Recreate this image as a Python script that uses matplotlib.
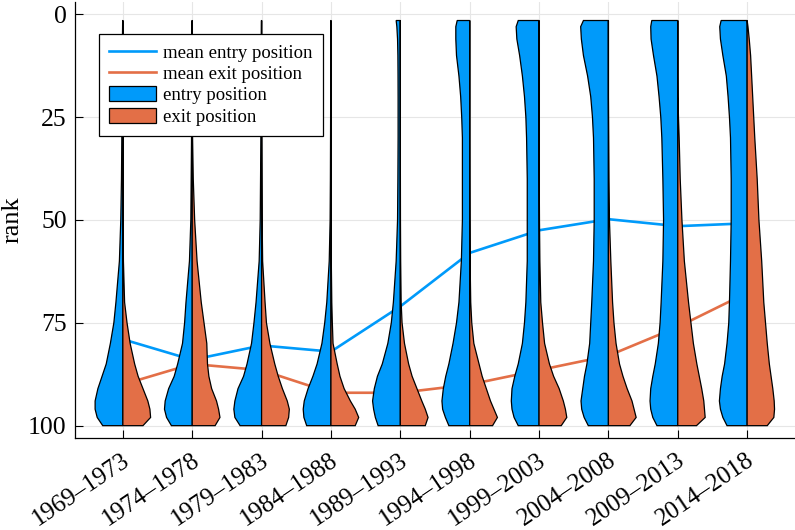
import numpy as np
import matplotlib
matplotlib.use("Agg")
import matplotlib.pyplot as plt
from matplotlib.lines import Line2D
from matplotlib.patches import Patch
from matplotlib.transforms import ScaledTranslation

plt.rcParams["font.family"] = ["Liberation Serif", "DejaVu Serif"]

# periods on the x axis
periods = ["1969–1973", "1974–1978", "1979–1983", "1984–1988", "1989–1993",
           "1994–1998", "1999–2003", "2004–2008", "2009–2013", "2014–2018"]

# mean rank of entry / exit per period
mean_entry = [79, 84, 80.5, 82, 71, 58, 52.5, 49.8, 51.5, 50.8]
mean_exit = [90, 85, 86.5, 92, 92, 90, 86.5, 83, 76, 67.7]

# rank levels at which the violin half widths were read
ranks = [1.5, 3, 6, 10, 15, 20, 25, 30, 40, 50, 60, 70, 75, 80, 85, 88, 91, 94, 96, 98, 100]

# half width of the entry-position violin (left side), one row per period
entry_width = [
    [0.003, 0.004, 0.006, 0.008, 0.01, 0.012, 0.013, 0.015, 0.02, 0.03, 0.05, 0.10, 0.13, 0.18, 0.24, 0.30, 0.36, 0.40, 0.40, 0.37, 0.29],
    [0.002, 0.003, 0.004, 0.005, 0.006, 0.007, 0.008, 0.01, 0.015, 0.02, 0.04, 0.09, 0.11, 0.14, 0.21, 0.26, 0.34, 0.39, 0.40, 0.37, 0.30],
    [0.002, 0.003, 0.004, 0.005, 0.006, 0.007, 0.008, 0.01, 0.015, 0.02, 0.035, 0.08, 0.11, 0.145, 0.21, 0.26, 0.34, 0.385, 0.40, 0.385, 0.31],
    [0.002, 0.002, 0.003, 0.003, 0.004, 0.004, 0.005, 0.006, 0.008, 0.012, 0.025, 0.06, 0.09, 0.13, 0.20, 0.26, 0.33, 0.385, 0.40, 0.39, 0.35],
    [0.06, 0.05, 0.04, 0.035, 0.033, 0.032, 0.032, 0.032, 0.035, 0.04, 0.06, 0.10, 0.13, 0.18, 0.26, 0.33, 0.375, 0.40, 0.385, 0.36, 0.32],
    [0.18, 0.20, 0.20, 0.19, 0.155, 0.13, 0.115, 0.105, 0.105, 0.105, 0.12, 0.155, 0.19, 0.24, 0.30, 0.345, 0.38, 0.40, 0.39, 0.35, 0.30],
    [0.30, 0.33, 0.32, 0.28, 0.24, 0.21, 0.19, 0.18, 0.17, 0.17, 0.17, 0.19, 0.21, 0.24, 0.30, 0.35, 0.39, 0.40, 0.39, 0.36, 0.30],
    [0.36, 0.40, 0.39, 0.36, 0.30, 0.255, 0.23, 0.215, 0.205, 0.205, 0.215, 0.24, 0.255, 0.27, 0.31, 0.345, 0.37, 0.395, 0.385, 0.35, 0.29],
    [0.375, 0.39, 0.385, 0.35, 0.30, 0.27, 0.245, 0.23, 0.215, 0.205, 0.215, 0.24, 0.255, 0.28, 0.325, 0.36, 0.39, 0.40, 0.39, 0.36, 0.30],
    [0.375, 0.395, 0.385, 0.35, 0.30, 0.275, 0.255, 0.24, 0.23, 0.23, 0.24, 0.255, 0.265, 0.29, 0.325, 0.36, 0.385, 0.40, 0.385, 0.35, 0.29],
]

# half width of the exit-position violin (right side)
exit_width = [
    [0, 0, 0, 0, 0, 0, 0, 0.001, 0.002, 0.004, 0.008, 0.025, 0.06, 0.105, 0.17, 0.22, 0.29, 0.36, 0.39, 0.40, 0.29],
    [0, 0, 0, 0, 0, 0, 0.002, 0.005, 0.015, 0.035, 0.07, 0.13, 0.17, 0.21, 0.22, 0.24, 0.28, 0.35, 0.38, 0.40, 0.33],
    [0, 0, 0, 0, 0, 0, 0, 0.002, 0.005, 0.008, 0.015, 0.05, 0.07, 0.12, 0.19, 0.24, 0.30, 0.37, 0.40, 0.39, 0.35],
    [0, 0, 0, 0, 0, 0, 0, 0, 0.001, 0.002, 0.005, 0.012, 0.02, 0.03, 0.09, 0.13, 0.19, 0.28, 0.35, 0.40, 0.35],
    [0, 0, 0, 0, 0, 0, 0, 0, 0.001, 0.002, 0.005, 0.012, 0.025, 0.06, 0.12, 0.17, 0.24, 0.31, 0.36, 0.40, 0.36],
    [0, 0, 0, 0, 0, 0, 0, 0, 0.001, 0.003, 0.006, 0.015, 0.03, 0.06, 0.135, 0.18, 0.24, 0.30, 0.35, 0.40, 0.33],
    [0, 0, 0, 0, 0, 0, 0, 0.001, 0.003, 0.006, 0.012, 0.025, 0.05, 0.08, 0.15, 0.21, 0.29, 0.35, 0.38, 0.40, 0.32],
    [0, 0, 0, 0, 0, 0, 0.002, 0.004, 0.008, 0.015, 0.035, 0.06, 0.08, 0.11, 0.16, 0.21, 0.27, 0.34, 0.37, 0.40, 0.31],
    [0, 0, 0, 0, 0, 0.002, 0.01, 0.02, 0.035, 0.06, 0.095, 0.155, 0.19, 0.225, 0.275, 0.31, 0.345, 0.375, 0.385, 0.395, 0.27],
    [0, 0.012, 0.03, 0.05, 0.065, 0.08, 0.095, 0.11, 0.145, 0.17, 0.21, 0.24, 0.265, 0.29, 0.32, 0.345, 0.37, 0.39, 0.395, 0.385, 0.29],
]

c_entry = "#009AFA"
c_exit = "#E36F47"

fig = plt.figure(figsize=(7.95, 5.3), dpi=100)
ax = fig.add_axes([75 / 795, 92 / 530, 720 / 795, 436 / 530])

x = np.arange(len(periods))
r = np.array(ranks)

ax.plot(x, mean_entry, color=c_entry, lw=1.9, zorder=2)
ax.plot(x, mean_exit, color=c_exit, lw=1.9, zorder=2)

for i in range(len(periods)):
    we = np.array(entry_width[i])
    wx = np.array(exit_width[i])
    ax.fill(np.concatenate([x[i] - we, [x[i], x[i]]]),
            np.concatenate([r, [r[-1], r[0]]]),
            facecolor=c_entry, edgecolor="black", lw=0.9, zorder=3)
    ax.fill(np.concatenate([x[i] + wx, [x[i], x[i]]]),
            np.concatenate([r, [r[-1], r[0]]]),
            facecolor=c_exit, edgecolor="black", lw=0.9, zorder=3)

ax.set_xlim(-0.69, 9.69)
ax.set_ylim(103, -3)
ax.set_yticks([0, 25, 50, 75, 100])
ax.set_xticks(x)
ax.set_xticklabels(periods, rotation=34, ha="right", va="center", rotation_mode="anchor")
ax.tick_params(axis="both", direction="in", length=6, width=0.8, color="black")
ax.tick_params(axis="y", pad=6, labelsize=18.5)
ax.tick_params(axis="x", pad=14.5, labelsize=18)
shift = ScaledTranslation(5 / 100, 0, fig.dpi_scale_trans)
for lbl in ax.get_xticklabels():
    lbl.set_transform(lbl.get_transform() + shift)
ax.set_ylabel("rank", fontsize=19, labelpad=3)

ax.grid(True, color="#e6e6e6", lw=0.8, zorder=0)
ax.set_axisbelow(True)
for s in ["top", "right"]:
    ax.spines[s].set_visible(False)
for s in ["left", "bottom"]:
    ax.spines[s].set_linewidth(0.9)

handles = [
    Line2D([], [], color=c_entry, lw=1.9),
    Line2D([], [], color=c_exit, lw=1.9),
    Patch(facecolor=c_entry, edgecolor="black", lw=0.9),
    Patch(facecolor=c_exit, edgecolor="black", lw=0.9),
]
labels = ["mean entry position", "mean exit position", "entry position", "exit position"]
leg = ax.legend(handles, labels, loc="upper left", bbox_to_anchor=(0.033, 0.927),
                borderaxespad=0, fontsize=13.5, frameon=True, fancybox=False,
                edgecolor="black", framealpha=1, handlelength=2.5, handleheight=0.85,
                handletextpad=0.4, labelspacing=0.17, borderpad=0.55)
leg.get_frame().set_linewidth(0.9)
leg.set_zorder(5)

fig.savefig("out.png", dpi=100)
